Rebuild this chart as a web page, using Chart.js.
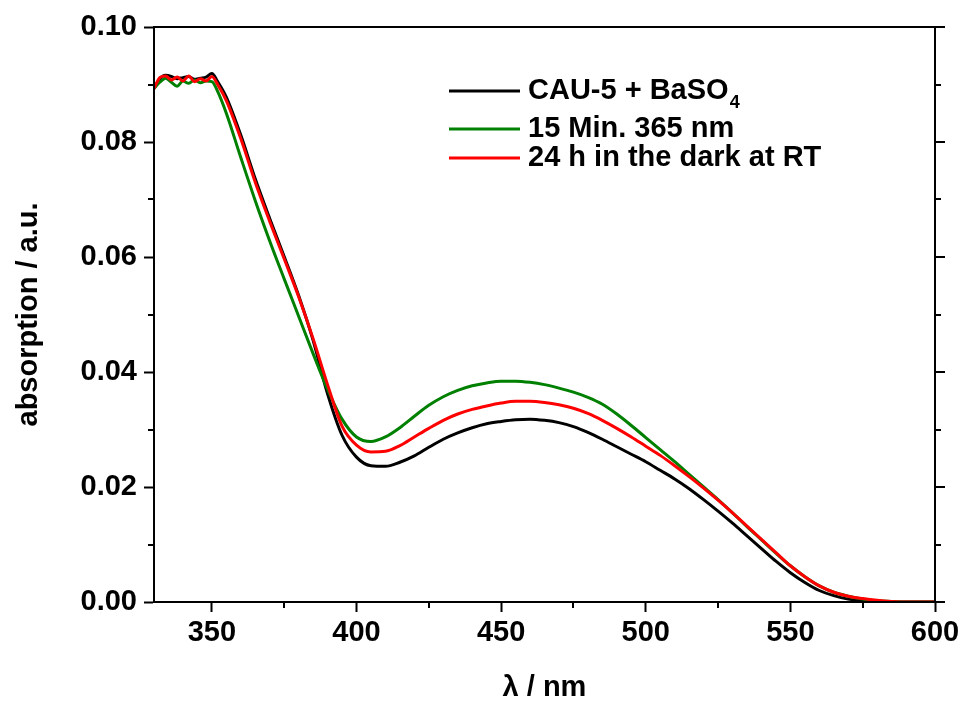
<!DOCTYPE html>
<html><head><meta charset="utf-8">
<script src="https://cdn.jsdelivr.net/npm/chart.js@4.4.1/dist/chart.umd.min.js"></script>
<style>html,body{margin:0;padding:0;background:#fff;}#wrap{width:964px;height:702px;}</style>
</head><body><div id="wrap"><canvas id="c" width="964" height="702"></canvas></div>
<script>
const wavelengths = [330,332,334,336,338,340,342,344,346,348,350,352,
  355,360,365,370,375,380,385,390,395,400,
  405,410,415,420,425,430,435,440,445,450,
  455,460,465,470,475,480,485,490,495,500,
  505,510,515,520,525,530,535,540,545,550,
  555,560,565,570,575,580,585,590,595,600];
const cau5 = [0.0893,0.0910,0.0916,0.0914,0.0910,0.0912,0.0914,0.0909,0.0911,0.0913,0.0919,0.0905,
  0.0878,0.0812,0.0736,0.0667,0.0601,0.0533,0.0455,0.0362,0.0290,0.0252,
  0.0237,0.0236,0.0243,0.0254,0.0269,0.0283,0.0294,0.0303,0.0310,0.0314,
  0.0317,0.0318,0.0316,0.0312,0.0305,0.0295,0.0283,0.0270,0.0257,0.0244,
  0.0229,0.0214,0.0197,0.0178,0.0158,0.0137,0.0115,0.0093,0.0071,0.0051,
  0.0034,0.0020,0.0011,0.0005,0.0002,0.0001,0.0000,0.0000,0.0000,0.0000];
const min15 = [0.0893,0.0904,0.0911,0.0904,0.0897,0.0906,0.0902,0.0908,0.0903,0.0906,0.0905,0.0888,
  0.0850,0.0773,0.0698,0.0628,0.0562,0.0497,0.0432,0.0370,0.0318,0.0287,
  0.0279,0.0287,0.0303,0.0323,0.0342,0.0357,0.0368,0.0376,0.0381,0.0384,
  0.0384,0.0382,0.0378,0.0372,0.0365,0.0356,0.0344,0.0327,0.0307,0.0286,
  0.0265,0.0244,0.0222,0.0200,0.0178,0.0155,0.0131,0.0108,0.0085,0.0063,
  0.0044,0.0028,0.0017,0.0010,0.0005,0.0002,0.0001,0.0000,0.0000,0.0000];
const dark24 = [0.0893,0.0912,0.0915,0.0908,0.0913,0.0906,0.0915,0.0905,0.0910,0.0906,0.0914,0.0900,
  0.0872,0.0806,0.0730,0.0662,0.0597,0.0531,0.0458,0.0378,0.0306,0.0273,
  0.0261,0.0262,0.0272,0.0287,0.0302,0.0316,0.0327,0.0335,0.0341,0.0346,
  0.0349,0.0349,0.0347,0.0343,0.0337,0.0328,0.0316,0.0302,0.0287,0.0271,
  0.0255,0.0237,0.0218,0.0198,0.0177,0.0155,0.0132,0.0109,0.0086,0.0063,
  0.0044,0.0028,0.0017,0.0010,0.0006,0.0003,0.0001,0.0000,0.0000,0.0000];
const seriesLabels = ['CAU-5 + BaSO_4', '15 Min. 365 nm', '24 h in the dark at RT'];
const seriesColors = ['#000000', '#008000', '#ff0000'];
const xMajorTicks = [350,400,450,500,550,600];
const xMinorTicks = [375,425,475,525,575];
const yMajorTicks = [0.00,0.02,0.04,0.06,0.08,0.10];
const yMinorTicks = [0.01,0.03,0.05,0.07,0.09];
const xTitle = 'λ / nm';
const yTitle = 'absorption / a.u.';

const FONT = 'Liberation Sans, Arial, Helvetica, sans-serif';

function toPoints(vals){ return wavelengths.map((w,i)=>({x:w,y:vals[i]})); }

const frame = {
  id:'frame',
  afterDraw(chart){
    const {ctx, chartArea:a, scales:{x,y}} = chart;
    ctx.save();
    ctx.strokeStyle='#000'; ctx.lineWidth=2;
    ctx.strokeRect(a.left, a.top, a.right-a.left, a.bottom-a.top);
    ctx.beginPath();
    xMinorTicks.forEach(v=>{const px=Math.round(x.getPixelForValue(v)); ctx.moveTo(px,a.bottom); ctx.lineTo(px,a.bottom+6);});
    yMinorTicks.forEach(v=>{const py=Math.round(y.getPixelForValue(v)); ctx.moveTo(a.left,py); ctx.lineTo(a.left-6,py);});
    yMajorTicks.forEach(v=>{const py=Math.round(y.getPixelForValue(v)); ctx.moveTo(a.right,py); ctx.lineTo(a.right+10,py);});
    yMinorTicks.forEach(v=>{const py=Math.round(y.getPixelForValue(v)); ctx.moveTo(a.right,py); ctx.lineTo(a.right+6,py);});
    ctx.stroke();
    // legend
    const rows=[91,129,158];
    chart.data.datasets.forEach((ds,i)=>{
      const ry=rows[i];
      ctx.strokeStyle=ds.borderColor; ctx.lineWidth=3;
      ctx.beginPath(); ctx.moveTo(449,ry); ctx.lineTo(520,ry); ctx.stroke();
      ctx.fillStyle='#000'; ctx.textBaseline='middle'; ctx.textAlign='left';
      ctx.font='bold 29px '+FONT;
      const parts=ds.label.split('_');
      ctx.fillText(parts[0],528,ry);
      if(parts[1]){
        const w=ctx.measureText(parts[0]).width;
        ctx.font='bold 18px '+FONT;
        ctx.fillText(parts[1],528+w+1,ry+12);
      }
    });
    ctx.restore();
  }
};

new Chart(document.getElementById('c'),{
  type:'scatter',
  data:{datasets:[
    {label:seriesLabels[0],data:toPoints(cau5),borderColor:seriesColors[0]},
    {label:seriesLabels[1],data:toPoints(min15),borderColor:seriesColors[1]},
    {label:seriesLabels[2],data:toPoints(dark24),borderColor:seriesColors[2]}
  ].map((d,i)=>Object.assign(d,{showLine:true,pointRadius:0,borderWidth:3,cubicInterpolationMode:'monotone',fill:false,order:3-i}))},
  options:{
    responsive:false, animation:false, devicePixelRatio:1,
    layout:{padding:{top:27,right:29,left:0,bottom:0}},
    plugins:{legend:{display:false},tooltip:{enabled:false}},
    scales:{
      x:{type:'linear',min:330,max:600,
        afterBuildTicks(s){s.ticks=xMajorTicks.map(v=>({value:v}));},
        afterFit(s){s.height=100;},
        ticks:{color:'#000',font:{family:FONT,size:29,weight:'bold'},padding:4,maxRotation:0,callback:v=>String(v)},
        grid:{display:true,drawOnChartArea:false,drawTicks:true,tickLength:10,tickColor:'#000',tickWidth:2},
        border:{display:true,color:'#000',width:2},
        title:{display:true,text:xTitle,color:'#000',font:{family:FONT,size:29,weight:'bold',lineHeight:1},padding:{top:0,bottom:0}}
      },
      y:{type:'linear',min:0,max:0.10,
        afterBuildTicks(s){s.ticks=yMajorTicks.map(v=>({value:v}));},
        afterFit(s){s.width=154;},
        ticks:{color:'#000',font:{family:FONT,size:29,weight:'bold'},padding:7,callback:v=>v.toFixed(2)},
        grid:{display:true,drawOnChartArea:false,drawTicks:true,tickLength:10,tickColor:'#000',tickWidth:2},
        border:{display:true,color:'#000',width:2},
        title:{display:true,text:yTitle,color:'#000',font:{family:FONT,size:29,weight:'bold',lineHeight:1},padding:{top:14,bottom:0}}
      }
    }
  },
  plugins:[frame]
});
</script></body></html>
